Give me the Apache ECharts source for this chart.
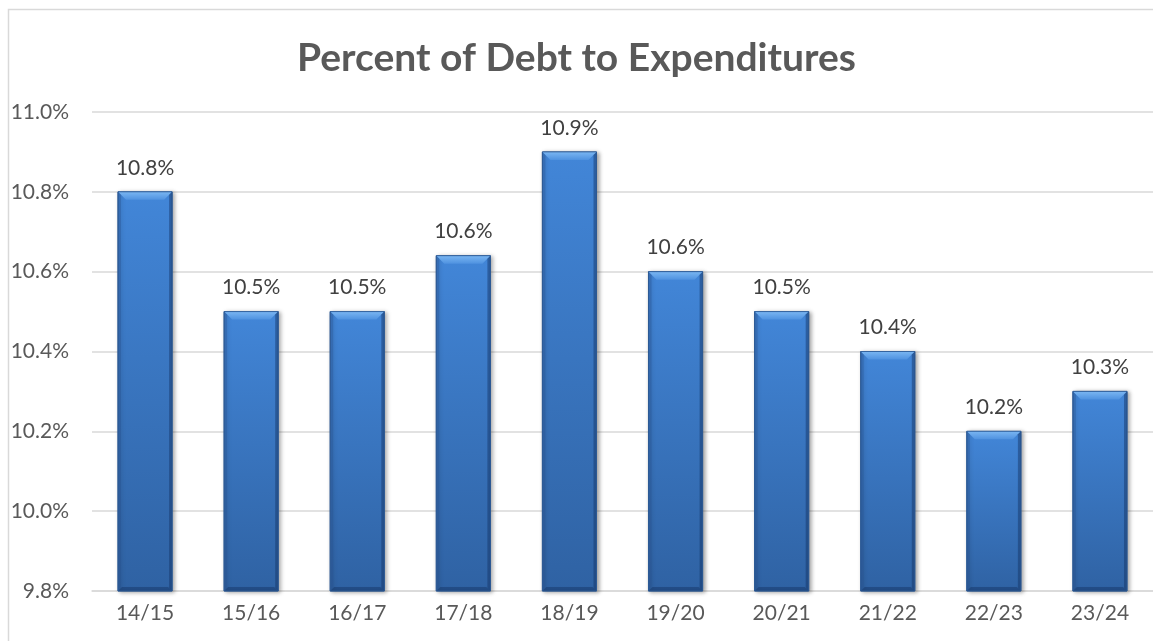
<!DOCTYPE html>
<html>
<head>
<meta charset="utf-8">
<script src="https://cdn.jsdelivr.net/npm/echarts@6/dist/echarts.min.js"></script>
<style>
  html, body { margin: 0; padding: 0; background: #ffffff; }
  #chart { width: 1153px; height: 641px; }
</style>
</head>
<body>
<div id="chart"></div>
<script>
// Fiscal years and debt as a percent of expenditures
const years = ['14/15', '15/16', '16/17', '17/18', '18/19', '19/20', '20/21', '21/22', '22/23', '23/24'];
const debtPct = [10.8, 10.5, 10.5, 10.64, 10.9, 10.6, 10.5, 10.4, 10.2, 10.3];

// Value axis settings
const axisMin = 9.8;
const axisMax = 11.0;
const axisStep = 0.2;

const FONT = 'Lato, "Open Sans", sans-serif';
const chart = echarts.init(document.getElementById('chart'), null, { renderer: 'canvas' });

// Beveled column: body with vertical gradient, lighter top bevel, darker sides and bottom,
// plus the value label above it
function renderBar(params, api) {
  const idx = api.value(0);
  const val = api.value(1);
  const top = api.coord([idx, val]);
  const base = api.coord([idx, axisMin]);
  const w = api.size([1, 0])[0] * 0.51;
  const x0 = top[0] - w / 2, x1 = top[0] + w / 2;
  const y0 = top[1], y1 = base[1];
  const b = 8;
  return {
    type: 'group',
    children: [
      {
        type: 'rect',
        shape: { x: x0, y: y0, width: w, height: y1 - y0 },
        style: {
          fill: new echarts.graphic.LinearGradient(0, 0, 0, 1, [
            { offset: 0, color: '#4286d8' },
            { offset: 1, color: '#2f62a3' }
          ]),
          stroke: '#2d5b96',
          lineWidth: 1,
          shadowColor: 'rgba(0,0,0,0.35)',
          shadowBlur: 4,
          shadowOffsetX: 2,
          shadowOffsetY: 1
        }
      },
      {
        type: 'polygon',
        shape: { points: [[x0, y0], [x1, y0], [x1 - b, y0 + b], [x0 + b, y0 + b]] },
        style: {
          fill: new echarts.graphic.LinearGradient(0, 0, 0, 1, [
            { offset: 0, color: '#7ab6f2' },
            { offset: 1, color: '#4f92e0' }
          ])
        }
      },
      {
        type: 'polygon',
        shape: { points: [[x0, y0], [x0 + 3, y0 + 3], [x0 + 3, y1 - 3], [x0, y1]] },
        style: { fill: 'rgba(40,80,140,0.35)' }
      },
      {
        type: 'polygon',
        shape: { points: [[x1, y0], [x1 - 3, y0 + 3], [x1 - 3, y1 - 3], [x1, y1]] },
        style: { fill: 'rgba(20,50,100,0.45)' }
      },
      {
        type: 'polygon',
        shape: { points: [[x0, y1], [x1, y1], [x1 - 4, y1 - 4], [x0 + 4, y1 - 4]] },
        style: { fill: 'rgba(20,50,100,0.45)' }
      },
      {
        type: 'rect',
        shape: { x: x0, y: y0, width: w, height: y1 - y0 },
        style: { fill: 'none', stroke: '#2d5b96', lineWidth: 0.8 }
      },
      {
        type: 'text',
        style: {
          x: top[0],
          y: y0 - 24,
          text: val.toFixed(1) + '%',
          fill: '#404040',
          font: '21px ' + FONT,
          textAlign: 'center',
          textVerticalAlign: 'middle'
        }
      }
    ]
  };
}

chart.setOption({
  backgroundColor: '#ffffff',
  animation: false,
  graphic: [{
    type: 'rect',
    left: 6, top: 7,
    shape: { width: 1160, height: 660 },
    style: { fill: 'none', stroke: '#d9d9d9', lineWidth: 1.5 },
    z: -1
  }],
  title: {
    text: 'Percent of Debt to Expenditures',
    left: 'center',
    top: 34,
    textStyle: { fontFamily: FONT, fontWeight: 'bold', fontSize: 39, color: '#595959' }
  },
  grid: { left: 92, top: 112, width: 1065, bottom: 50, containLabel: false },
  xAxis: {
    type: 'category',
    data: years,
    axisLine: { show: true, lineStyle: { color: '#d9d9d9', width: 1.5 } },
    axisTick: { show: false },
    axisLabel: { fontFamily: FONT, fontSize: 21, color: '#595959', margin: 12 }
  },
  yAxis: {
    type: 'value',
    min: axisMin,
    max: axisMax,
    interval: axisStep,
    axisLine: { show: false },
    axisTick: { show: false },
    splitLine: { lineStyle: { color: '#d9d9d9', width: 1.5 } },
    axisLabel: {
      fontFamily: FONT, fontSize: 21, color: '#595959', margin: 23,
      formatter: v => v.toFixed(1) + '%'
    }
  },
  series: [{
    type: 'custom',
    renderItem: renderBar,
    data: debtPct.map((v, i) => [i, v]),
    encode: { x: 0, y: 1 },
    clip: false
  }]
});
</script>
</body>
</html>
